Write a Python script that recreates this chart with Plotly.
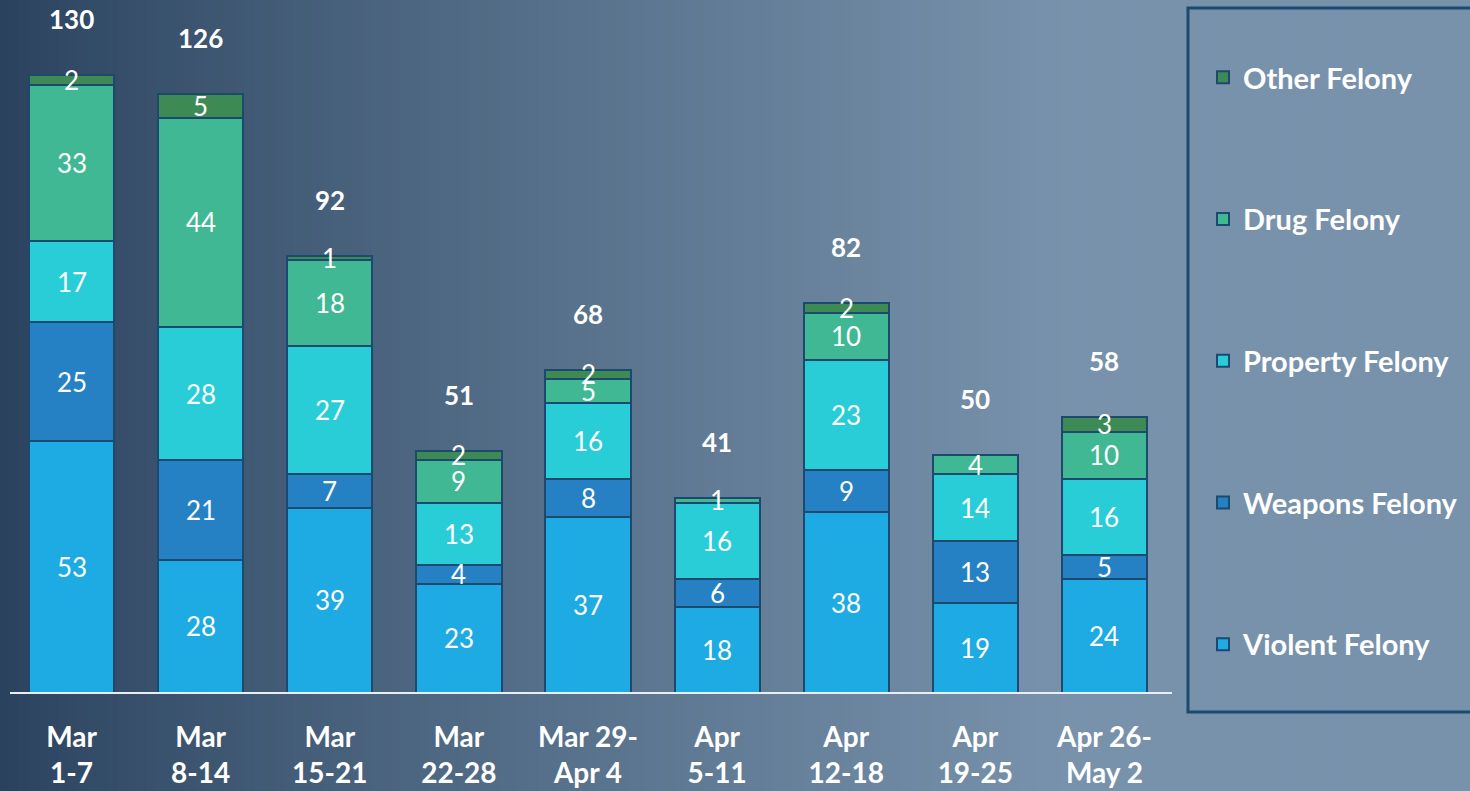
import plotly.graph_objects as go

weeks = ["Mar<br>1-7", "Mar<br>8-14", "Mar<br>15-21", "Mar<br>22-28", "Mar 29-<br>Apr 4",
         "Apr<br>5-11", "Apr<br>12-18", "Apr<br>19-25", "Apr 26-<br>May 2"]
violent = [53, 28, 39, 23, 37, 18, 38, 19, 24]
weapons = [25, 21, 7, 4, 8, 6, 9, 13, 5]
property_ = [17, 28, 27, 13, 16, 16, 23, 14, 16]
drug = [33, 44, 18, 9, 5, 1, 10, 4, 10]
other = [2, 5, 1, 2, 2, 0, 2, 0, 3]
totals = [130, 126, 92, 51, 68, 41, 82, 50, 58]

series = [
    ("Violent Felony", violent, "#1EAAE2"),
    ("Weapons Felony", weapons, "#2581C4"),
    ("Property Felony", property_, "#28CDD8"),
    ("Drug Felony", drug, "#40B893"),
    ("Other Felony", other, "#3E8A55"),
]

FONT = "Lato"
W, H = 1470, 791
ml, mr, mt, mb = 7, 301, 0, 98
pw, ph = W - ml - mr, H - mt - mb

fig = go.Figure()
n = len(series)
for k, (name, vals, col) in enumerate(series):
    fig.add_trace(go.Bar(
        x=weeks, y=vals, name=name, legendgroup=name, legendrank=n - k,
        marker=dict(color=col, line=dict(color="#1B4A6E", width=2)),
        width=0.66, hoverinfo="skip",
    ))

annotations = []
base = [0] * len(weeks)
for name, vals, col in series:
    for i, v in enumerate(vals):
        if v > 0:
            annotations.append(dict(x=weeks[i], y=base[i] + v / 2, text=str(v), showarrow=False,
                                    font=dict(family=FONT, size=26, color="white"),
                                    xref="x", yref="y", yanchor="middle"))
        base[i] += v
for i, t in enumerate(totals):
    annotations.append(dict(x=weeks[i], y=t, text=f"<b>{t}</b>", showarrow=False,
                            font=dict(family=FONT, size=26, color="white"),
                            xref="x", yref="y", yanchor="middle", yshift=56))

# background gradient strips
def lerp(a, b, t):
    return tuple(int(round(a[k] + (b[k] - a[k]) * t)) for k in range(3))

c0 = (0x2A, 0x42, 0x5D)
c1 = (0x78, 0x92, 0xAC)
shapes = []
N = 150
x_lo = -ml / pw
x_hi = (W - ml) / pw
y_lo = -mb / ph
for k in range(N):
    fx = k / N
    t = min(1.0, (fx / 0.72)) ** 0.85
    col = lerp(c0, c1, t)
    shapes.append(dict(type="rect", xref="paper", yref="paper",
                       x0=x_lo + (x_hi - x_lo) * k / N - 0.001,
                       x1=x_lo + (x_hi - x_lo) * (k + 1) / N + 0.001,
                       y0=y_lo - 0.01, y1=1.02, line=dict(width=0),
                       fillcolor="rgb(%d,%d,%d)" % col, layer="below"))
# axis baseline (reference line spans slightly wider than the category band)
shapes.append(dict(type="line", xref="paper", yref="paper",
                   x0=(10 - ml) / pw, x1=(1172 - ml) / pw, y0=0, y1=0,
                   line=dict(color="#E8EEF4", width=2)))
# legend frame
shapes.append(dict(type="rect", xref="paper", yref="paper",
                   x0=(1188 - ml) / pw, x1=(1490 - ml) / pw,
                   y0=(H - mb - 712) / ph, y1=(H - mb - 8) / ph,
                   line=dict(color="#1B4A6E", width=3), fillcolor="rgba(0,0,0,0)"))

fig.update_layout(
    width=W, height=H,
    margin=dict(l=ml, r=mr, t=mt, b=mb),
    barmode="stack",
    bargap=0.34,
    paper_bgcolor="#2A425D",
    plot_bgcolor="rgba(0,0,0,0)",
    font=dict(family=FONT, color="white"),
    showlegend=True,
    legend=dict(x=(1203 - ml) / pw, xanchor="left", y=(ph - 52) / ph, yanchor="top",
                traceorder="grouped", tracegroupgap=101,
                font=dict(family=FONT, size=29, color="white", weight="bold"),
                bgcolor="rgba(0,0,0,0)", borderwidth=0, itemwidth=30),
    xaxis=dict(showline=False, showgrid=False, zeroline=False,
               ticks="", tickfont=dict(family=FONT, size=28, color="white", weight="bold"),
               ticklabelstandoff=25, fixedrange=True),
    yaxis=dict(range=[0, 130 * ph / 618], visible=False, showgrid=False, fixedrange=True),
    annotations=annotations,
    shapes=shapes,
)

fig.write_html("out.html", post_script="document.body.style.margin='0';",
               config={"displayModeBar": False})
